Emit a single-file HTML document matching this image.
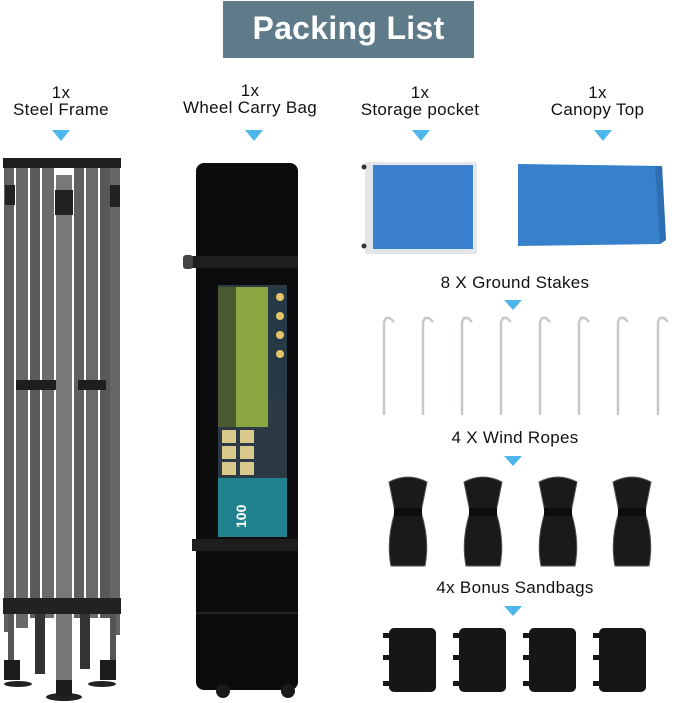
<!DOCTYPE html>
<html><head><style>
html,body{margin:0;padding:0;background:#fff;}
body{width:679px;height:703px;position:relative;overflow:hidden;font-family:"Liberation Sans",sans-serif;}
.t{position:absolute;text-align:center;color:#111;font-size:17px;line-height:17px;letter-spacing:0.3px;}
</style></head><body>
<div style="position:absolute;left:223px;top:1px;width:251px;height:57px;background:#5f7a89;"></div>
<div class="t" style="left:223px;top:11px;width:251px;font-size:32px;line-height:34px;font-weight:bold;color:#fff;">Packing List</div>

<div class="t" style="left:0;top:84px;width:122px;">1x<br>Steel Frame</div>
<div class="t" style="left:165px;top:82px;width:170px;">1x<br>Wheel Carry Bag</div>
<div class="t" style="left:345px;top:84px;width:150px;">1x<br>Storage pocket</div>
<div class="t" style="left:530px;top:84px;width:135px;">1x<br>Canopy Top</div>
<div class="t" style="left:400px;top:274px;width:230px;">8 X Ground Stakes</div>
<div class="t" style="left:400px;top:429px;width:230px;">4 X Wind Ropes</div>
<div class="t" style="left:400px;top:579px;width:230px;">4x Bonus Sandbags</div>

<svg width="679" height="703" style="position:absolute;left:0;top:0">
<g fill="#4db6ea">
<polygon points="52,130 70,130 61,141"/>
<polygon points="245,130 263,130 254,141"/>
<polygon points="412,130 430,130 421,141"/>
<polygon points="594,130 612,130 603,141"/>
<polygon points="504,300 522,300 513,310"/>
<polygon points="504,456 522,456 513,466"/>
<polygon points="504,606 522,606 513,616"/>
</g>
<!-- frame -->
<g>
<rect x="4" y="162" width="10" height="470" fill="#5f6163"/>
<rect x="16" y="168" width="12" height="460" fill="#67696b"/>
<rect x="30" y="168" width="10" height="450" fill="#595b5d"/>
<rect x="42" y="168" width="12" height="450" fill="#6a6c6e"/>
<rect x="56" y="175" width="16" height="520" fill="#76787a"/>
<rect x="74" y="168" width="10" height="450" fill="#5e6062"/>
<rect x="86" y="168" width="12" height="450" fill="#686a6c"/>
<rect x="100" y="168" width="10" height="450" fill="#56585a"/>
<rect x="110" y="165" width="10" height="470" fill="#636567"/>
<rect x="3" y="158" width="118" height="10" fill="#1e1e1e"/>
<rect x="5" y="185" width="10" height="20" fill="#222"/><rect x="55" y="190" width="18" height="25" fill="#222"/><rect x="110" y="185" width="10" height="22" fill="#222"/>
<rect x="16" y="380" width="40" height="10" fill="#1e1e1e"/><rect x="78" y="380" width="28" height="10" fill="#1e1e1e"/>
<rect x="3" y="598" width="118" height="16" fill="#222"/>
<rect x="8" y="614" width="6" height="50" fill="#555"/><rect x="110" y="614" width="6" height="50" fill="#555"/>
<rect x="35" y="614" width="10" height="60" fill="#333"/><rect x="80" y="614" width="10" height="55" fill="#333"/>
<rect x="56" y="614" width="16" height="70" fill="#777"/>
<rect x="4" y="660" width="16" height="20" fill="#1c1c1c"/><rect x="100" y="660" width="16" height="20" fill="#1c1c1c"/>
<ellipse cx="64" cy="697" rx="18" ry="4" fill="#222"/><ellipse cx="18" cy="684" rx="14" ry="3" fill="#222"/><ellipse cx="102" cy="684" rx="14" ry="3" fill="#222"/>
<rect x="56" y="680" width="16" height="16" fill="#1c1c1c"/>
</g>
<!-- bag -->
<rect x="196" y="163" width="102" height="527" rx="8" fill="#0c0c0e"/>
<rect x="192" y="256" width="106" height="12" fill="#1e1e20"/>
<rect x="192" y="539" width="106" height="12" fill="#1e1e20"/>
<rect x="183" y="255" width="10" height="14" rx="3" fill="#444"/>
<rect x="196" y="612" width="102" height="2" fill="#222"/>
<circle cx="223" cy="691" r="7" fill="#1a1a1a"/><circle cx="288" cy="691" r="7" fill="#1a1a1a"/>
<rect x="218" y="285" width="69" height="252" fill="#2b3a45"/>
<rect x="218" y="287" width="50" height="140" fill="#8aa640"/>
<rect x="218" y="287" width="18" height="140" fill="#4a5a30"/>
<rect x="268" y="287" width="19" height="110" fill="#253a44"/>
<g fill="#e6c56a"><circle cx="280" cy="297" r="4"/><circle cx="280" cy="316" r="4"/><circle cx="280" cy="335" r="4"/><circle cx="280" cy="354" r="4"/></g>
<g fill="#d9c98a"><rect x="222" y="430" width="14" height="13"/><rect x="240" y="430" width="14" height="13"/><rect x="222" y="446" width="14" height="13"/><rect x="240" y="446" width="14" height="13"/><rect x="222" y="462" width="14" height="13"/><rect x="240" y="462" width="14" height="13"/></g>
<rect x="218" y="478" width="69" height="59" fill="#21828f"/>
<text x="0" y="0" transform="translate(246,528) rotate(-90)" fill="#fff" font-size="14" font-weight="bold" font-family="Liberation Sans">100</text>
<!-- storage pocket -->
<rect x="365" y="162" width="112" height="92" fill="#e3e6ea"/>
<rect x="373" y="165" width="100" height="84" fill="#3a80cf"/>
<circle cx="364" cy="167" r="2.5" fill="#333"/><circle cx="364" cy="246" r="2.5" fill="#333"/>
<!-- canopy -->
<path d="M518,164 L662,166 L666,240 L660,244 L518,246 Z" fill="#3781cc"/>
<path d="M655,166 L662,166 L666,240 L660,244 Z" fill="#2d6fb2"/>
<!-- stakes -->
<g fill="none" stroke="#c6c9cc" stroke-width="2.5">
<path d="M384,415 V322 L386,318 H390 L394,322"/>
<path d="M423,415 V322 L425,318 H429 L433,322"/>
<path d="M462,415 V322 L464,318 H468 L472,322"/>
<path d="M501,415 V322 L503,318 H507 L511,322"/>
<path d="M540,415 V322 L542,318 H546 L550,322"/>
<path d="M579,415 V322 L581,318 H585 L589,322"/>
<path d="M618,415 V322 L620,318 H624 L628,322"/>
<path d="M658,415 V322 L660,318 H664 L668,322"/>
</g>
<!-- ropes -->
<g fill="#1a1a1a" stroke="#555" stroke-width="1">
<path d="M389,482 Q408,472 427,482 L421,512 Q430,540 425,566 L391,566 Q386,540 395,512 Z"/>
<path d="M464,482 Q483,472 502,482 L496,512 Q505,540 500,566 L466,566 Q461,540 470,512 Z"/>
<path d="M539,482 Q558,472 577,482 L571,512 Q580,540 575,566 L541,566 Q536,540 545,512 Z"/>
<path d="M613,482 Q632,472 651,482 L645,512 Q654,540 649,566 L615,566 Q610,540 619,512 Z"/>
</g>
<g fill="#0d0d0d"><rect x="394" y="508" width="28" height="8"/><rect x="469" y="508" width="28" height="8"/><rect x="544" y="508" width="28" height="8"/><rect x="618" y="508" width="28" height="8"/></g>
<!-- sandbags -->
<g fill="#161616">
<rect x="389" y="628" width="47" height="64" rx="5"/><rect x="383" y="633" width="8" height="5"/><rect x="383" y="655" width="8" height="5"/><rect x="383" y="681" width="8" height="5"/>
<rect x="459" y="628" width="47" height="64" rx="5"/><rect x="453" y="633" width="8" height="5"/><rect x="453" y="655" width="8" height="5"/><rect x="453" y="681" width="8" height="5"/>
<rect x="529" y="628" width="47" height="64" rx="5"/><rect x="523" y="633" width="8" height="5"/><rect x="523" y="655" width="8" height="5"/><rect x="523" y="681" width="8" height="5"/>
<rect x="599" y="628" width="47" height="64" rx="5"/><rect x="593" y="633" width="8" height="5"/><rect x="593" y="655" width="8" height="5"/><rect x="593" y="681" width="8" height="5"/>
</g>
</svg>
</body></html>
